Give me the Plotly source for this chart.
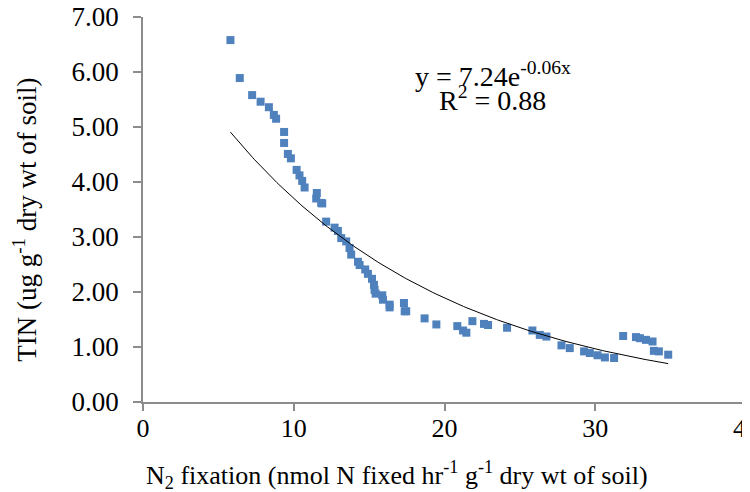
import numpy as np
import plotly.graph_objects as go

# N2 fixation (x) and TIN (y) values
n2_fixation = [5.80, 6.42, 7.24, 7.80, 8.35, 8.68, 8.83, 9.36, 9.36, 9.61, 9.81,
               10.19, 10.38, 10.56, 10.72, 11.53, 11.49, 11.89, 11.82, 12.15, 12.71,
               12.93, 13.15, 13.48, 13.70, 13.81, 14.26, 14.37, 14.74, 14.92, 15.19,
               15.32, 15.36, 15.43, 15.87, 15.92, 16.36, 16.36, 17.31, 17.36, 17.46,
               18.68, 19.46, 20.85, 21.23, 21.45, 21.85, 22.62, 22.89, 24.15, 25.83,
               26.32, 26.76, 27.76, 28.31, 29.26, 29.64, 30.15, 30.64, 31.25, 31.85,
               32.70, 32.96, 33.36, 33.80, 33.89, 34.22, 34.84]
tin = [6.58, 5.89, 5.58, 5.46, 5.36, 5.22, 5.15, 4.91, 4.71, 4.51, 4.43,
       4.22, 4.12, 4.02, 3.90, 3.80, 3.70, 3.61, 3.62, 3.28, 3.17,
       3.11, 2.98, 2.92, 2.80, 2.68, 2.55, 2.49, 2.41, 2.33, 2.24,
       2.13, 2.04, 1.97, 1.94, 1.86, 1.77, 1.72, 1.80, 1.65, 1.65,
       1.52, 1.41, 1.38, 1.30, 1.26, 1.47, 1.42, 1.40, 1.35, 1.30,
       1.22, 1.19, 1.03, 0.98, 0.92, 0.89, 0.85, 0.81, 0.80, 1.20,
       1.18, 1.16, 1.13, 1.10, 0.93, 0.92, 0.86]

x_ticks = [0, 10, 20, 30, 40]
y_ticks = [0, 1, 2, 3, 4, 5, 6, 7]
y_tick_labels = ["0.00", "1.00", "2.00", "3.00", "4.00", "5.00", "6.00", "7.00"]

x_title = "N<sub>2</sub> fixation (nmol N fixed hr<sup>-1</sup> g<sup>-1</sup> dry wt of soil)"
y_title = "TIN (ug g<sup>-1</sup> dry wt of soil)"
equation_text = "y = 7.24e<sup>-0.06x</sup>"
r2_text = "R<sup>2</sup> = 0.88"

# exponential trendline fitted to the data (least squares on ln y)
xa = np.array(n2_fixation)
ya = np.array(tin)
b, ln_a = np.polyfit(xa, np.log(ya), 1)
x_fit = np.linspace(xa.min(), xa.max(), 200)
y_fit = np.exp(ln_a) * np.exp(b * x_fit)

FONT = "Liberation Serif, Times New Roman, serif"
AXIS_COLOR = "#8c8c8c"

fig = go.Figure()
fig.add_trace(go.Scatter(
    x=n2_fixation, y=tin, mode="markers",
    marker=dict(symbol="square", size=8, color="#4f81bd"),
    showlegend=False, hoverinfo="skip"))
fig.add_trace(go.Scatter(
    x=x_fit, y=y_fit, mode="lines",
    line=dict(color="#000000", width=1),
    showlegend=False, hoverinfo="skip"))

fig.update_layout(
    width=750, height=492,
    margin=dict(l=135, r=12, t=9, b=98, autoexpand=False),
    paper_bgcolor="white", plot_bgcolor="white",
    font=dict(family=FONT, color="#000000", size=26),
    xaxis=dict(
        range=[0, 40], tickvals=x_ticks, ticktext=[str(v) for v in x_ticks],
        automargin=False,
        showgrid=False, zeroline=False, showline=True, linecolor=AXIS_COLOR, linewidth=1.5,
        ticks="outside", ticklen=7, tickcolor=AXIS_COLOR, tickwidth=1.5,
        tickfont=dict(size=26), ticklabelstandoff=-5, ticklabeloverflow="allow",
    ),
    yaxis=dict(
        range=[0, 7], tickvals=y_ticks, ticktext=y_tick_labels,
        automargin=False,
        showgrid=False, zeroline=False, showline=True, linecolor=AXIS_COLOR, linewidth=1.5,
        ticks="outside", ticklen=8, tickcolor=AXIS_COLOR, tickwidth=1.5,
        tickfont=dict(size=27), ticklabelstandoff=9, ticklabeloverflow="allow",
    ),
)

# axis titles
fig.add_annotation(x=-0.196, y=0.473, xref="paper", yref="paper", showarrow=False,
                   xanchor="center", yanchor="middle", textangle=-90,
                   text=y_title, font=dict(family=FONT, size=27))
fig.add_annotation(x=0.421, y=-0.190, xref="paper", yref="paper", showarrow=False,
                   xanchor="center", yanchor="middle",
                   text=x_title, font=dict(family=FONT, size=26))

# equation and R² labels
fig.add_annotation(x=23.2, y=5.95, xref="x", yref="y", showarrow=False,
                   text=equation_text, font=dict(family=FONT, size=28))
fig.add_annotation(x=23.2, y=5.52, xref="x", yref="y", showarrow=False,
                   text=r2_text, font=dict(family=FONT, size=28))

fig.write_html("out.html")
